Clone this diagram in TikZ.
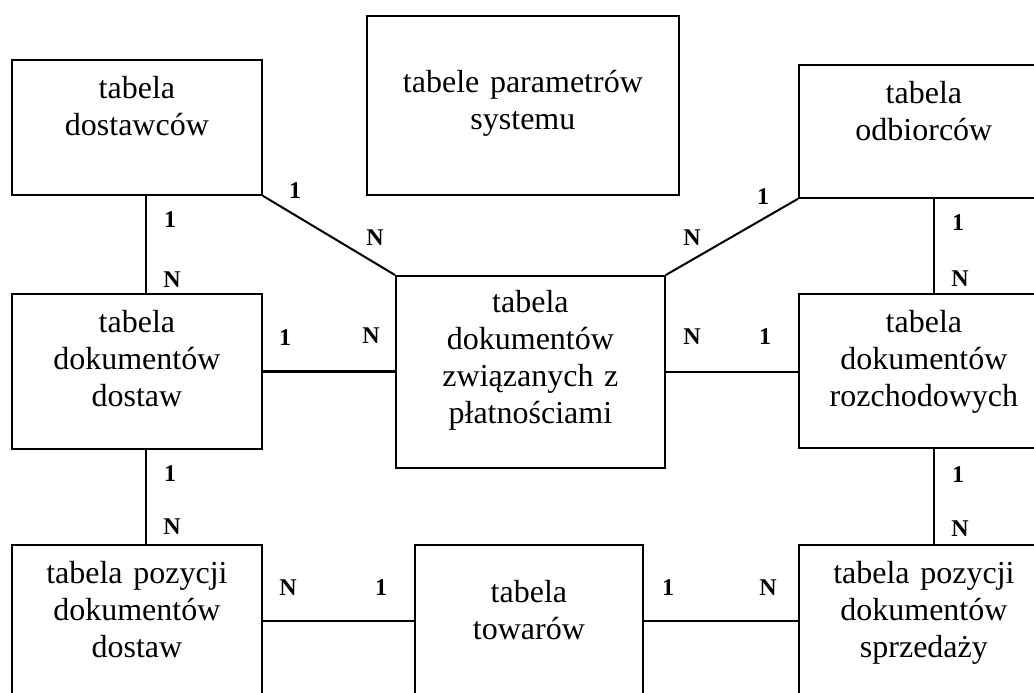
\documentclass[tikz,border=0pt]{standalone}
\usepackage{fontspec}
\setmainfont{Liberation Serif}
\usetikzlibrary{positioning,calc}
\tikzset{
  tab/.style={rectangle, draw=black, line width=1.8pt, fill=white, align=center,
    inner sep=0pt, anchor=north west, font=\fontsize{32}{37}\selectfont,
    text height=39pt},
  rel/.style={line width=2pt},
  hrel/.style={line width=2.6pt},
  card/.style={font=\fontsize{24}{26}\selectfont\bfseries, inner sep=0pt},
}

\begin{document}
\begin{tikzpicture}[x=1pt, y=-1pt]
  \useasboundingbox (0,0) rectangle (1034,693);
  \clip (0,0) rectangle (1034,693);

  % tables
  \node[tab, text width=250pt, text depth=96pt] (dost) at (11,59) {tabela\\dostawców};
  \node[tab, text width=312pt, text height=77pt, text depth=102pt] (param) at (366,15)
    {tabele parametrów\\systemu};
  \node[tab, text width=250pt, text depth=94pt] (odb) at (798,64) {tabela\\odbiorców};
  \node[tab, text width=250pt, text depth=116pt] (dokdost) at (11,293)
    {tabela\\dokumentów\\dostaw};
  \node[tab, text width=269pt, text height=37pt, text depth=155pt] (platn) at (395,275)
    {tabela\\dokumentów\\związanych z\\płatnościami};
  \node[tab, text width=250pt, text depth=115pt] (rozch) at (798,293)
    {tabela\\dokumentów\\rozchodowych};
  \node[tab, text width=250pt, text depth=113pt] (pozdost) at (11,544)
    {tabela pozycji\\dokumentów\\dostaw};
  \node[tab, text width=228pt, text height=58pt, text depth=94pt] (tow) at (414,544)
    {tabela\\towarów};
  \node[tab, text width=250pt, text depth=113pt] (pozsprz) at (798,544)
    {tabela pozycji\\dokumentów\\sprzedaży};

  % relations
  \draw[rel] ([xshift=9pt]dost.south) -- ([xshift=9pt]dokdost.north);
  \draw[rel] ([xshift=9pt]dokdost.south) -- ([xshift=9pt]pozdost.north);
  \draw[rel] ([xshift=10pt]odb.south) -- ([xshift=10pt]rozch.north);
  \draw[rel] ([xshift=10pt]rozch.south) -- ([xshift=10pt]pozsprz.north);
  \draw[rel] (dost.south east) -- (platn.north west);
  \draw[rel] (odb.south west) -- (platn.north east);
  \draw[hrel] (dokdost.east) -- (dokdost.east -| platn.west);
  \draw[hrel] (platn.east) -- (platn.east -| rozch.west);
  \draw[hrel] (pozdost.east) -- (pozdost.east -| tow.west);
  \draw[hrel] (tow.east) -- (tow.east -| pozsprz.west);

  % cardinalities
  \node[card] (k1) at (170,220) {1};
  \node[card] (k2) at (172,280) {N};
  \node[card] (k3) at (295,191) {1};
  \node[card] (k4) at (375,238) {N};
  \node[card] (k5) at (285,338) {1};
  \node[card] (k6) at (371,336) {N};
  \node[card] (k7) at (763,197) {1};
  \node[card] (k8) at (692,238) {N};
  \node[card] (k9) at (958,223) {1};
  \node[card] (k10) at (960,279) {N};
  \node[card] (k11) at (692,337) {N};
  \node[card] (k12) at (765,337) {1};
  \node[card] (k13) at (170,474) {1};
  \node[card] (k14) at (172,527) {N};
  \node[card] (k15) at (958,475) {1};
  \node[card] (k16) at (960,529) {N};
  \node[card] (k17) at (288,588) {N};
  \node[card] (k18) at (381,588) {1};
  \node[card] (k19) at (668,588) {1};
  \node[card] (k20) at (768,588) {N};
\end{tikzpicture}
\end{document}
